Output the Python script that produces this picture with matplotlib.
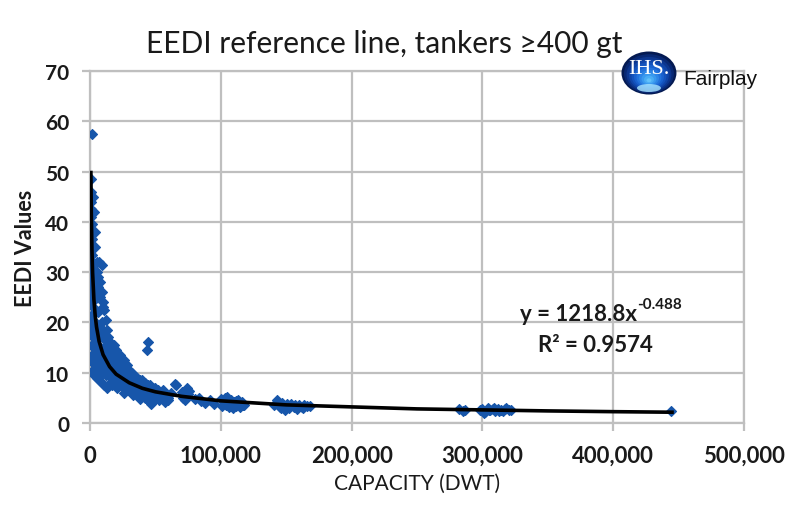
import matplotlib as mpl
mpl.use('Agg')
import matplotlib.pyplot as plt
from matplotlib.patches import Ellipse
from matplotlib.ticker import FuncFormatter

# tankers: capacity (dwt) and attained EEDI
small_dwt = [1500, 500, 800, 600, 1000, 700, 1200, 900, 1500, 800, 1300, 1800, 1000, 2000, 1400,
             2400, 1100, 2800, 1700, 3200, 1300, 2300, 3600, 1600, 2600, 4000, 1900, 3000,
             900, 2100, 3400, 1200, 2700, 4300, 1500, 3800, 700, 2000, 4800, 2500,
             4000, 5000, 6000, 3500, 4500, 2800, 2000, 3300, 2500, 3500, 4500]
small_eedi = [57.5, 48.5, 46, 44, 42.5, 41, 39.5, 38, 36.5, 35, 33.5, 32, 31, 30, 29,
              28, 27.5, 26.5, 25.5, 24.5, 24, 23, 22, 21.5, 20.5, 19.5, 19, 18,
              18.5, 17, 16, 15.5, 15, 14, 13.5, 13, 12.5, 12, 11.5, 10.5,
              35, 32, 29, 38, 26, 42, 45, 30, 20, 17.5, 16.5]

handy_dwt = [5500, 7000, 9000, 6000, 8000, 10000, 11000, 6500, 9500, 12000, 7500, 13000, 5000,
             8500, 14000, 11500, 16000, 6000, 10500, 15000, 18000, 4500, 12500, 17000, 20000,
             7000, 14500, 9000, 19000, 11000, 16500, 22000, 5500, 13500, 8000, 21000, 18500,
             10000, 24000, 15500, 3900, 12000, 20500, 6500, 17500,
             5500, 6500, 7500, 8500, 9500, 3000, 5000, 7000, 9000, 11000, 13000, 15000, 17000,
             19000, 14000, 16000, 18000, 13000, 11000, 12500, 8000, 9000, 10000, 7000, 8000]
handy_eedi = [30, 32, 31.5, 27, 25, 23, 22.5, 22, 20, 20.5, 19, 18.5, 18,
              17.5, 17, 16.5, 16, 15.5, 15, 15, 15.5, 14.5, 14, 14, 14.5,
              13.5, 13, 12.5, 13, 12, 12, 13.5, 11.5, 11, 11, 12, 11,
              10.5, 12.5, 10.5, 9.9, 9.5, 10.5, 9, 9.5,
              15, 14, 13, 12, 11.5, 9.5, 9, 8.5, 8, 7.5, 7, 8, 7.5,
              9, 9.5, 13, 12.5, 15.5, 17.5, 12.5, 28, 26, 24, 10, 9.8]

mr_dwt = [23000, 26000, 28000, 25000, 30000, 32000, 27000, 34000, 29000, 36000, 31000, 38000,
          33000, 40000, 35000, 42000, 37000, 44000, 39000, 46000, 41000, 48000, 43000, 50000,
          45000, 52000, 47000, 54000, 49000, 56000, 51000, 58000, 53000, 44000, 43800, 24000,
          30000, 36000, 42000, 47000, 21000, 26000, 33000, 38000, 60000, 62000, 57000,
          21000, 23000, 25000, 27000, 29000, 31000, 35000, 39000, 22000, 28000, 32000, 34000,
          40000, 45000, 50000, 55000, 60000]
mr_eedi = [13.5, 12.5, 11.5, 9.5, 10.5, 10, 8, 9.5, 7.5, 9, 6.5, 8.5,
           7, 8.5, 6, 8, 7, 7.5, 5.5, 7.5, 6.5, 7, 5, 7,
           4.5, 6.5, 5.5, 6, 4.5, 6.5, 5, 5.5, 4.5, 16.1, 14.5, 7.5,
           8.5, 5.5, 5, 3.8, 8.5, 6, 5.5, 4.8, 5, 6, 4.2,
           7, 8, 11, 10, 9, 8, 7.5, 7, 11, 6.5, 6, 7,
           6, 6, 5.5, 5.5, 4.5]

pmax_dwt = [65000, 66000, 70000, 72000, 74000, 75000, 76000, 71000, 73000, 80000, 85000,
            88000, 92000, 95000, 83000]
pmax_eedi = [7.8, 7.5, 6.2, 5.3, 7.0, 5.8, 6.4, 4.9, 4.6, 4.8, 4.3, 4.0, 4.6, 3.7, 5.0]

afra_dwt = [100000, 102000, 104000, 105000, 106000, 107000, 108000, 109000, 110000, 111000,
            112000, 113000, 114000, 115000, 116000, 117000, 103000, 106000, 109000, 112000,
            115000, 118000, 101000, 108000]
afra_eedi = [4.8, 4.3, 3.6, 5.2, 4.0, 3.4, 4.6, 3.0, 4.2, 3.7, 3.3, 4.5, 3.9, 3.2, 4.1, 3.5,
             5.0, 3.1, 4.0, 4.4, 3.7, 3.6, 3.3, 3.8]

suez_dwt = [141000, 143000, 145000, 147000, 149000, 150000, 152000, 154000, 156000, 158000,
            160000, 162000, 164000, 166000, 168000, 146000, 151000, 157000, 163000, 148000]
suez_eedi = [3.5, 4.6, 3.2, 3.9, 2.6, 3.4, 3.0, 3.7, 3.2, 2.8, 3.5, 3.1, 3.6, 3.3, 3.4,
             2.9, 3.7, 3.5, 3.0, 3.3]

vlcc_dwt = [282000, 285000, 287000, 298000, 300000, 302000, 304000, 306000, 308000, 310000,
            312000, 314000, 316000, 318000, 320000, 322000, 301000, 305000, 309000, 313000,
            317000, 444000]
vlcc_eedi = [2.7, 2.3, 2.6, 2.5, 2.8, 2.2, 2.9, 2.5, 2.7, 2.3, 2.8, 2.6, 2.4, 2.9, 2.6,
             2.5, 2.0, 2.6, 3.0, 2.4, 2.7, 2.4]

# reference line (power trend)
ref_dwt = [700, 1000, 1500, 2000, 3000, 4000, 5000, 7000, 10000, 15000, 20000, 30000,
           40000, 50000, 70000, 100000, 150000, 200000, 250000, 300000, 350000, 400000, 445000]
ref_eedi = [49.8, 41.9, 34.4, 29.9, 24.5, 21.3, 19.1, 16.2, 13.6, 11.2, 9.7, 8.0,
            6.9, 6.2, 5.3, 4.4, 3.6, 3.2, 2.8, 2.6, 2.4, 2.25, 2.14]

x_ticks = [0, 100000, 200000, 300000, 400000, 500000]
y_ticks = [0, 10, 20, 30, 40, 50, 60, 70]

all_dwt = small_dwt + handy_dwt + mr_dwt + pmax_dwt + afra_dwt + suez_dwt + vlcc_dwt
all_eedi = small_eedi + handy_eedi + mr_eedi + pmax_eedi + afra_eedi + suez_eedi + vlcc_eedi

grid_c = '#bfbfbf'
dot_c = '#1756aa'
txt_c = '#1a1a1a'
fam = ['Lato', 'DejaVu Sans']

fig = plt.figure(figsize=(7.9, 5.06), dpi=100)
ax = fig.add_axes([0.1139, 0.1621, 0.8278, 0.6957])

ax.scatter(all_dwt, all_eedi, marker='D', s=26, color=dot_c, edgecolors=dot_c,
           linewidths=0.8, zorder=3)
ax.plot(ref_dwt, ref_eedi, color='black', lw=2.6, zorder=4)

ax.set_xlim(0, 500000)
ax.set_ylim(0, 70)
ax.set_xticks(x_ticks)
ax.set_yticks(y_ticks)
ax.xaxis.set_major_formatter(FuncFormatter(lambda v, p: '{:,.0f}'.format(v)))
ax.grid(True, color=grid_c, lw=1.6, zorder=0)
ax.set_axisbelow(True)
for s in ax.spines.values():
    s.set_color(grid_c)
    s.set_linewidth(1.6)
ax.tick_params(axis='both', direction='out', length=6, width=1.6, color=grid_c)
ax.tick_params(axis='x', pad=10)
ax.tick_params(axis='y', pad=9)
for lab in ax.get_xticklabels():
    lab.set_fontfamily(fam)
    lab.set_fontweight('bold')
    lab.set_fontsize(16)
    lab.set_color(txt_c)
for lab in ax.get_yticklabels():
    lab.set_fontfamily(fam)
    lab.set_fontweight('bold')
    lab.set_fontsize(15)
    lab.set_color(txt_c)

ax.set_xlabel('CAPACITY (DWT)', family=fam, fontsize=15, color=txt_c, labelpad=5)
ax.set_ylabel('EEDI Values', family=fam, fontsize=15.5, fontweight='bold', color=txt_c)
ax.yaxis.set_label_coords(-0.082, 0.5)
fig.text(0.486, 0.914, 'EEDI reference line, tankers \u2265400 gt', ha='center', va='center',
         family=fam, fontsize=21.5, color=txt_c)

# trendline equation
fig.text(0.806, 0.379, 'y = 1218.8x', ha='right', va='center', family=fam,
         fontsize=16, fontweight='bold', color=txt_c)
fig.text(0.806, 0.397, '-0.488', ha='left', va='center', family=fam,
         fontsize=11, fontweight='bold', color=txt_c)
fig.text(0.754, 0.318, 'R\u00b2 = 0.9574', ha='center', va='center',
         family=fam, fontsize=16, fontweight='bold', color=txt_c)

# IHS Fairplay logo
lg = fig.add_axes([0.7848, 0.8063, 0.0759, 0.0949])
lg.set_xlim(0, 60)
lg.set_ylim(0, 48)
lg.axis('off')
shades = ['#041a52', '#082873', '#0c368f', '#1045a8', '#1453bd', '#1a62cf', '#2373dc',
          '#2e86e6', '#3a9aef', '#4aadf5', '#62c2fb']
for i, c in enumerate(shades):
    k = 1 - i / len(shades)
    lg.add_patch(Ellipse((29, 24 - 8 * (1 - k)), 55 * k, 43 * k, color=c, lw=0))
lg.add_patch(Ellipse((29, 9), 24, 8, color='#a9e6ff', lw=0, alpha=0.8))
lg.text(29, 29, 'IHS.', ha='center', va='center', color='white', fontsize=16,
        family=['Liberation Serif', 'DejaVu Serif'])
fig.text(0.8646, 0.843, 'Fairplay', ha='left', va='center', fontsize=15,
         family=['Liberation Sans', 'DejaVu Sans'], color='#111111')

fig.savefig('out.png', dpi=100)
